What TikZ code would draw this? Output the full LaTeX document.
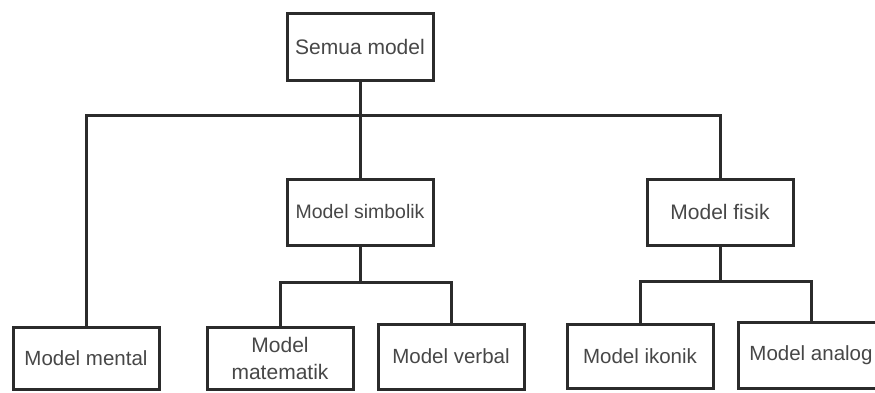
\documentclass[tikz,border=0pt]{standalone}
\usepackage{fontspec}
\setmainfont{Liberation Sans}
\definecolor{linecol}{HTML}{2B2B2B}
\definecolor{txtcol}{HTML}{474747}
\begin{document}
\begin{tikzpicture}[x=1pt,y=-1pt,
  box/.style={draw=linecol, line width=3pt, fill=white, minimum width=146pt,
    minimum height=66pt, inner sep=0pt, align=center, text=txtcol,
    font=\fontsize{20.5}{27}\selectfont},
  link/.style={draw=linecol, line width=3pt}]
  \useasboundingbox (0,0) rectangle (875,392);
  \clip (0,0) rectangle (875,392);
  % top level
  \node[box, minimum height=67pt, font=\fontsize{21}{25}\selectfont] (root) at (360,46.5) {Semua model};
  % middle level
  \node[box, font=\fontsize{19.5}{23}\selectfont] (simb) at (360,212) {Model simbolik};
  \node[box, font=\fontsize{21}{25}\selectfont] (fisik) at (720,212) {Model fisik};
  % bottom level
  \node[box, minimum height=62pt] (mental) at (86,358) {Model mental};
  \node[box, minimum height=62pt, font=\fontsize{21}{27}\selectfont] (mate) at (280,358) {Model\\matematik};
  \node[box, minimum height=65pt] (verbal) at (451,356.5) {Model verbal};
  \node[box, minimum height=64pt] (ikon) at (640,356) {Model ikonik};
  \node[box, minimum height=66pt] (analog) at (811,355) {Model analog};
  % bus coordinates
  \coordinate (bus) at (360,115);
  \coordinate (sbus) at (360,282);
  \coordinate (fbus) at (720,281);
  % connectors
  \draw[link] (root.south) -- (simb.north);
  \draw[link] (mental.north) |- (bus) -| (fisik.north);
  \draw[link] (simb.south) -- (sbus);
  \draw[link] (mate.north) |- (sbus) -| (verbal.north);
  \draw[link] (fisik.south) -- (fbus);
  \draw[link] (ikon.north) |- (fbus) -| (analog.north);
\end{tikzpicture}
\end{document}
